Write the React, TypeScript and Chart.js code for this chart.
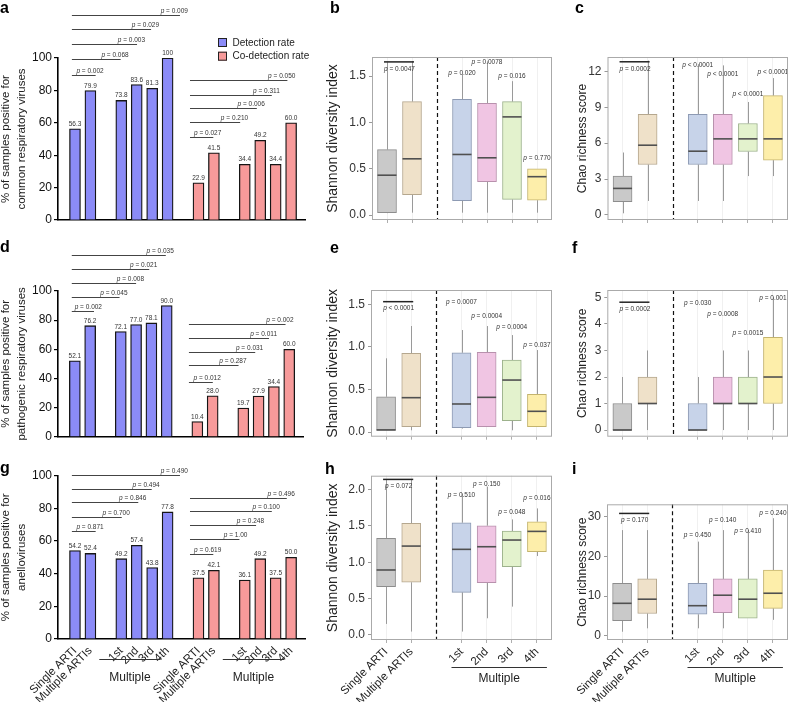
import { useEffect, useRef } from 'react';
import { Chart, registerables } from 'chart.js';

Chart.register(...registerables);

const FONT = '"Liberation Sans", Arial, Helvetica, sans-serif';
Chart.defaults.font.family = FONT;
Chart.defaults.color = '#222';

// ---------- categories ----------
const barSlotLabels = ['Single ARTI', 'Multiple ARTIs', '', '1st', '2nd', '3rd', '4th', '', 'Single ARTI', 'Multiple ARTIs', '', '1st', '2nd', '3rd', '4th'];
const detectionSlots = [0, 1, 3, 4, 5, 6];
const coDetectionSlots = [8, 9, 11, 12, 13, 14];
const barMultipleGroups = [[3, 6], [11, 14]];
const detBracketStart = -0.2;
const coBracketStart = 7.45;
const legendLabels = ['Detection rate', 'Co-detection rate'];

const boxLabels = ['Single ARTI', 'Multiple ARTIs', '', '1st', '2nd', '3rd', '4th'];
const boxSlots = [0, 1, 3, 4, 5, 6];
const boxMultipleGroup = [3, 6];
const pSlots = [0.5, 3, 4, 5, 6];

// ---------- a: common respiratory viruses ----------
const aDetection = [56.3, 79.9, 73.8, 83.6, 81.3, 100];
const aCoDetection = [22.9, 41.5, 34.4, 49.2, 34.4, 60.0];
const aDetP = ['p = 0.002', 'p = 0.068', 'p = 0.003', 'p = 0.029', 'p = 0.009'];
const aDetLevel = [89.5, 99.2, 108.5, 117.7, 126.7];
const aDetEnd = [1.34, 2.96, 4.02, 4.93, 6.8];
const aCoP = ['p = 0.027', 'p = 0.210', 'p = 0.006', 'p = 0.311', 'p = 0.050'];
const aCoLevel = [51.4, 60.7, 69, 77.2, 86.4];
const aCoEnd = [8.96, 10.7, 11.78, 12.75, 13.76];

// ---------- d: pathogenic respiratory viruses ----------
const dDetection = [52.1, 76.2, 72.1, 77.0, 78.1, 90.0];
const dCoDetection = [10.4, 28.0, 19.7, 27.9, 34.4, 60.0];
const dDetP = ['p = 0.002', 'p = 0.045', 'p = 0.008', 'p = 0.021', 'p = 0.035'];
const dDetLevel = [86.3, 96.1, 105.7, 115.3, 124.7];
const dDetEnd = [1.25, 2.92, 4.0, 4.86, 5.94];
const dCoP = ['p = 0.012', 'p = 0.287', 'p = 0.031', 'p = 0.011', 'p = 0.002'];
const dCoLevel = [37.7, 49.2, 57.9, 67.5, 77.1];
const dCoEnd = [9.01, 10.69, 11.78, 12.68, 13.76];

// ---------- g: anelloviruses ----------
const gDetection = [54.2, 52.4, 49.2, 57.4, 43.8, 77.8];
const gCoDetection = [37.5, 42.1, 36.1, 49.2, 37.5, 50.0];
const gDetP = ['p = 0.871', 'p = 0.700', 'p = 0.846', 'p = 0.494', 'p = 0.490'];
const gDetLevel = [66.1, 74.9, 83.7, 92.1, 100.6];
const gDetEnd = [1.34, 3.03, 4.1, 4.97, 6.8];
const gCoP = ['p = 0.619', 'p = 1.00', 'p = 0.248', 'p = 0.100', 'p = 0.496'];
const gCoLevel = [51.9, 61.1, 69.6, 78.2, 86.5];
const gCoEnd = [8.96, 10.65, 11.73, 12.75, 13.72];

// ---------- box plots: [lower whisker, q1, median, q3, upper whisker] ----------
const bLow = [0.02, 0.025, 0.025, 0.025, 0.025, 0.025];
const bQ1 = [0.025, 0.221, 0.154, 0.36, 0.168, 0.16];
const bMed = [0.43, 0.607, 0.654, 0.618, 1.06, 0.414];
const bQ3 = [0.707, 1.225, 1.25, 1.207, 1.225, 0.5];
const bHigh = [1.65, 1.66, 1.52, 1.66, 1.446, 0.5];
const bP = ['p = 0.0047', 'p = 0.020', 'p = 0.0078', 'p = 0.016', 'p = 0.770'];
const bPY = [1.58, 1.536, 1.646, 1.5, 0.618];
const bBracket = 1.654;

const cLow = [0.14, 1.17, 1.17, 1.17, 3.25, 3.25];
const cQ1 = [1.11, 4.22, 4.22, 4.22, 5.3, 4.58];
const cMed = [2.22, 5.83, 5.33, 6.36, 6.36, 6.36];
const cQ3 = [3.25, 8.42, 8.42, 8.42, 7.64, 9.97];
const cHigh = [5.22, 12.9, 12.6, 12.5, 9.44, 11.44];
const cP = ['p = 0.0002', 'p < 0.0001', 'p < 0.0001', 'p < 0.0001', 'p < 0.0001'];
const cPY = [12.14, 12.5, 11.8, 10.06, 11.92];
const cBracket = 12.8;

const eLow = [0.02, 0.02, 0.04, 0.062, 0.02, 0.06];
const eQ1 = [0.02, 0.062, 0.05, 0.062, 0.133, 0.062];
const eMed = [0.025, 0.403, 0.329, 0.407, 0.61, 0.243];
const eQ3 = [0.414, 0.924, 0.93, 0.935, 0.845, 0.442];
const eHigh = [0.865, 1.244, 1.197, 1.244, 1.138, 0.962];
const eP = ['p < 0.0001', 'p = 0.0007', 'p = 0.0004', 'p = 0.0004', 'p = 0.037'];
const ePY = [1.459, 1.52, 1.365, 1.229, 1.02];
const eBracket = 1.53;

const fLow = [0, 0, 0, 0, 0, 0];
const fQ1 = [0, 1, 0, 1, 1, 1];
const fMed = [0, 1, 0, 1, 1, 2];
const fQ3 = [1, 2, 1, 2, 2, 3.5];
const fHigh = [2, 3, 2, 3, 3, 5];
const fP = ['p = 0.0002', 'p = 0.030', 'p = 0.0008', 'p = 0.0015', 'p = 0.001'];
const fPY = [4.55, 4.78, 4.37, 3.67, 4.97];
const fBracket = 4.82;

const hLow = [0.151, 0.046, 0.046, 0.229, 0.389, 1.085];
const hQ1 = [0.664, 0.724, 0.586, 0.719, 0.939, 1.145];
const hMed = [0.893, 1.222, 1.177, 1.213, 1.305, 1.424];
const hQ3 = [1.328, 1.534, 1.543, 1.502, 1.429, 1.557];
const hHigh = [2.13, 2.13, 1.946, 2.04, 1.589, 1.74];
const hP = ['p = 0.072', 'p = 0.510', 'p = 0.150', 'p = 0.048', 'p = 0.016'];
const hPY = [2.04, 1.92, 2.07, 1.685, 1.877];
const hBracket = 2.139;

const iLow = [1.0, 1.86, 1.86, 1.86, 4.4, 4.0];
const iQ1 = [3.8, 5.6, 5.4, 5.8, 4.4, 6.9];
const iMed = [8.16, 9.2, 7.56, 10.2, 9.2, 10.7];
const iQ3 = [13.2, 14.3, 13.2, 14.3, 14.3, 16.5];
const iHigh = [26.6, 26.6, 23.7, 26.6, 26.6, 29.6];
const iP = ['p = 0.170', 'p = 0.450', 'p = 0.140', 'p = 0.410', 'p = 0.240'];
const iPY = [29.0, 25.2, 29.0, 26.4, 30.8];
const iBracket = 30.8;

const BLUE = '#8b8bf7';
const RED = '#f79a9a';
const boxFill = ['#c9c9c9', '#efe1c9', '#c7d3e9', '#f0c5e3', '#e3f2cd', '#fdeeaa'];
const boxEdge = ['#8d8d8d', '#b5a78e', '#8d9ab3', '#b891ad', '#9db28c', '#c4b46e'];

function drawP(ctx: CanvasRenderingContext2D, text: string, x: number, y: number, align: 'center' | 'right') {
  const head = text.charAt(0);
  const tail = text.slice(1);
  const italic = `italic 6.5px ${FONT}`;
  const upright = `6.5px ${FONT}`;
  ctx.font = italic;
  const w1 = ctx.measureText(head).width;
  ctx.font = upright;
  const w2 = ctx.measureText(tail).width;
  const x0 = align === 'center' ? x - (w1 + w2) / 2 : x - w1 - w2;
  ctx.textAlign = 'left';
  ctx.font = italic;
  ctx.fillText(head, x0, y);
  ctx.font = upright;
  ctx.fillText(tail, x0 + w1, y);
}

function seg(ctx: CanvasRenderingContext2D, x0: number, y0: number, x1: number, y1: number) {
  ctx.beginPath();
  ctx.moveTo(x0, y0);
  ctx.lineTo(x1, y1);
  ctx.stroke();
}

type BarPanel = {
  title: string[];
  det: number[]; co: number[];
  detP: string[]; detLevel: number[]; detEnd: number[];
  coP: string[]; coLevel: number[]; coEnd: number[];
  showX: boolean; legend: boolean;
  padTop: number; padRight: number; xHeight: number;
};

function barConfig(p: BarPanel) {
  const notes = {
    id: 'barNotes',
    afterDatasetsDraw(chart: any) {
      const { ctx, chartArea: area } = chart;
      const xs = chart.scales.x;
      const ys = chart.scales.y;
      ctx.save();
      // value labels
      ctx.font = `6.5px ${FONT}`;
      ctx.fillStyle = '#333';
      ctx.textAlign = 'center';
      ctx.textBaseline = 'bottom';
      chart.data.datasets.forEach((ds: any) => {
        ds.data.forEach((d: { x: number; y: number }) => {
          ctx.font = `6.5px ${FONT}`;
          ctx.textAlign = 'center';
          ctx.fillText(d.y === 100 ? '100' : d.y.toFixed(1), xs.getPixelForValue(d.x), ys.getPixelForValue(d.y) - 1.5);
        });
      });
      // significance brackets
      const groups = [
        { p: p.detP, level: p.detLevel, end: p.detEnd, start: detBracketStart },
        { p: p.coP, level: p.coLevel, end: p.coEnd, start: coBracketStart },
      ];
      groups.forEach((g) => g.p.forEach((txt, i) => {
        const yy = Math.round(ys.getPixelForValue(g.level[i])) + 0.5;
        const x0 = xs.getPixelForValue(g.start);
        const x1 = xs.getPixelForValue(g.end[i]);
        ctx.strokeStyle = '#444';
        ctx.lineWidth = 1;
        seg(ctx, x0, yy, x1, yy);
        ctx.fillStyle = '#333';
        ctx.textBaseline = 'bottom';
        drawP(ctx, txt, x1 + 8, yy - 1.2, 'right');
      }));
      // legend
      if (p.legend) {
        const lx = area.right - 87;
        const ly = ys.getPixelForValue(100) - 20;
        chart.data.datasets.forEach((ds: any, i: number) => {
          const top = ly + i * 13.7;
          ctx.fillStyle = ds.backgroundColor;
          ctx.fillRect(lx, top, 9, 9);
          ctx.strokeStyle = '#222';
          ctx.lineWidth = 1;
          ctx.strokeRect(lx + 0.5, top + 0.5, 8, 8);
          ctx.fillStyle = '#222';
          ctx.font = `10px ${FONT}`;
          ctx.textAlign = 'left';
          ctx.textBaseline = 'middle';
          ctx.fillText(ds.label, lx + 14.5, top + 4.8);
        });
      }
      // "Multiple" grouping
      if (p.showX) {
        barMultipleGroups.forEach(([a, b]) => {
          const x0 = xs.getPixelForValue(a) - 22;
          const x1 = xs.getPixelForValue(b) - 7;
          const yy = area.bottom + 20.5;
          ctx.strokeStyle = '#333';
          ctx.lineWidth = 1.2;
          seg(ctx, x0, yy, x1, yy);
          ctx.fillStyle = '#222';
          ctx.font = `12px ${FONT}`;
          ctx.textAlign = 'center';
          ctx.textBaseline = 'middle';
          ctx.fillText('Multiple', (x0 + x1) / 2, area.bottom + 39);
        });
      }
      ctx.restore();
    },
  };
  return {
    type: 'bar',
    data: {
      datasets: [
        {
          label: legendLabels[0],
          data: detectionSlots.map((s, i) => ({ x: s, y: p.det[i] })),
          backgroundColor: BLUE,
          borderColor: '#151515',
          borderWidth: 1.3,
          barThickness: 11,
          grouped: false,
        },
        {
          label: legendLabels[1],
          data: coDetectionSlots.map((s, i) => ({ x: s, y: p.co[i] })),
          backgroundColor: RED,
          borderColor: '#151515',
          borderWidth: 1.3,
          barThickness: 11,
          grouped: false,
        },
      ],
    },
    options: {
      responsive: false,
      animation: false,
      layout: { padding: { top: p.padTop, right: p.padRight, left: 0, bottom: 0 } },
      plugins: { legend: { display: false }, tooltip: { enabled: false } },
      scales: {
        x: {
          type: 'linear',
          min: -1.1,
          max: 14.9,
          offset: false,
          afterBuildTicks: (ax: any) => { ax.ticks = [...detectionSlots, ...coDetectionSlots].map((v) => ({ value: v })); },
          afterFit: (ax: any) => { ax.height = p.xHeight; },
          grid: { display: false, drawTicks: false, offset: false },
          border: { display: true, color: '#000', width: 1.6 },
          ticks: {
            display: p.showX,
            autoSkip: false,
            minRotation: 45,
            maxRotation: 45,
            padding: 5,
            color: '#222',
            font: { size: 11.5 },
            callback: (v: number) => barSlotLabels[v] ?? '',
          },
        },
        y: {
          min: 0,
          max: 100,
          afterFit: (ax: any) => { ax.width = 58; },
          ticks: { stepSize: 20, color: '#111', font: { size: 12 }, padding: 2 },
          grid: { drawOnChartArea: false, tickLength: 4, color: '#000', tickColor: '#000', lineWidth: 1.2 },
          border: { color: '#000', width: 1.6 },
          title: {
            display: true,
            text: p.title,
            color: '#222',
            font: { size: 11.5, lineHeight: 1.4 },
            padding: { top: -2, bottom: 0 },
          },
        },
      },
    },
    plugins: [notes],
  };
}

type BoxPanel = {
  title: string; titleSize: number; titlePad: number;
  low: number[]; q1: number[]; med: number[]; q3: number[]; high: number[];
  p: string[]; pY: number[]; bracket: number;
  min: number; max: number; ticks: number[]; decimals: number;
  showX: boolean;
  padTop: number; padRight: number; yWidth: number; xHeight: number;
};

function boxConfig(p: BoxPanel) {
  const marks = {
    id: 'boxMarks',
    beforeDatasetsDraw(chart: any) {
      const { ctx, chartArea: area } = chart;
      const xs = chart.scales.x;
      const ys = chart.scales.y;
      ctx.save();
      const dx = Math.round(xs.getPixelForValue(2)) + 0.5;
      ctx.strokeStyle = '#111';
      ctx.lineWidth = 1.2;
      ctx.setLineDash([4, 3]);
      seg(ctx, dx, area.top, dx, area.bottom);
      ctx.setLineDash([]);
      boxSlots.forEach((s, i) => {
        const cx = Math.round(xs.getPixelForValue(s)) + 0.5;
        ctx.strokeStyle = '#9a9a9a';
        ctx.lineWidth = 1;
        seg(ctx, cx, ys.getPixelForValue(p.high[i]), cx, ys.getPixelForValue(p.q3[i]));
        seg(ctx, cx, ys.getPixelForValue(p.q1[i]), cx, ys.getPixelForValue(p.low[i]));
      });
      ctx.restore();
    },
    afterDatasetsDraw(chart: any) {
      const { ctx, chartArea: area } = chart;
      const xs = chart.scales.x;
      const ys = chart.scales.y;
      ctx.save();
      // medians
      boxSlots.forEach((s, i) => {
        const cx = xs.getPixelForValue(s);
        const my = ys.getPixelForValue(p.med[i]);
        ctx.strokeStyle = '#505050';
        ctx.lineWidth = 1.6;
        seg(ctx, cx - 9.5, my, cx + 9.5, my);
      });
      // bracket between the first two groups
      const by = ys.getPixelForValue(p.bracket);
      ctx.strokeStyle = '#222';
      ctx.lineWidth = 1.5;
      seg(ctx, xs.getPixelForValue(0) - 3, by, xs.getPixelForValue(1) + 2, by);
      // p values
      ctx.fillStyle = '#333';
      ctx.textBaseline = 'middle';
      p.p.forEach((txt, i) => drawP(ctx, txt, xs.getPixelForValue(pSlots[i]), ys.getPixelForValue(p.pY[i]), 'center'));
      // frame
      ctx.strokeStyle = '#aaaaaa';
      ctx.lineWidth = 1;
      ctx.strokeRect(area.left + 0.5, area.top + 0.5, area.right - area.left - 1, area.bottom - area.top - 1);
      // "Multiple" grouping
      if (p.showX) {
        const x0 = xs.getPixelForValue(boxMultipleGroup[0]) - 10;
        const x1 = xs.getPixelForValue(boxMultipleGroup[1]) + 10;
        const yy = area.bottom + 27.5;
        ctx.strokeStyle = '#333';
        ctx.lineWidth = 1.2;
        seg(ctx, x0, yy, x1, yy);
        ctx.fillStyle = '#222';
        ctx.font = `12px ${FONT}`;
        ctx.textAlign = 'center';
        ctx.textBaseline = 'middle';
        ctx.fillText('Multiple', (x0 + x1) / 2, area.bottom + 39);
      }
      ctx.restore();
    },
  };
  return {
    type: 'bar',
    data: {
      datasets: [
        {
          data: boxSlots.map((s, i) => ({ x: s, y: [p.q1[i], p.q3[i]] })),
          backgroundColor: boxFill,
          borderColor: boxEdge,
          borderWidth: 1,
          borderSkipped: false,
          barThickness: 19,
          grouped: false,
        },
      ],
    },
    options: {
      responsive: false,
      animation: false,
      layout: { padding: { top: p.padTop, right: p.padRight, left: 0, bottom: 0 } },
      plugins: { legend: { display: false }, tooltip: { enabled: false } },
      scales: {
        x: {
          type: 'linear',
          min: -0.6,
          max: 6.6,
          offset: false,
          afterBuildTicks: (ax: any) => { ax.ticks = boxSlots.map((v) => ({ value: v })); },
          afterFit: (ax: any) => { ax.height = p.xHeight; },
          grid: { color: '#ececec', lineWidth: 0.8, tickLength: 3, tickColor: '#999', offset: false },
          border: { display: false },
          ticks: {
            display: p.showX,
            autoSkip: false,
            minRotation: 45,
            maxRotation: 45,
            padding: 2,
            color: '#222',
            font: { size: 11.5 },
            callback: (v: number) => boxLabels[v] ?? '',
          },
        },
        y: {
          min: p.min,
          max: p.max,
          afterBuildTicks: (ax: any) => { ax.ticks = p.ticks.map((v) => ({ value: v })); },
          afterFit: (ax: any) => { ax.width = p.yWidth; },
          grid: { drawOnChartArea: false, tickLength: 3, tickColor: '#999' },
          border: { display: false },
          ticks: {
            padding: 3,
            color: '#333',
            font: { size: 12 },
            callback: (v: number) => (p.decimals ? Number(v).toFixed(p.decimals) : String(v)),
          },
          title: {
            display: true,
            text: p.title,
            color: '#222',
            font: { size: p.titleSize, lineHeight: 1.2 },
            padding: { top: p.titlePad, bottom: 0 },
          },
        },
      },
    },
    plugins: [marks],
  };
}

function Panel({ left, top, width, height, config }: { left: number; top: number; width: number; height: number; config: () => any }) {
  const ref = useRef<HTMLCanvasElement>(null);
  useEffect(() => {
    const canvas = ref.current;
    if (!canvas) return;
    const chart = new Chart(canvas, config());
    return () => {
      chart.destroy();
    };
  }, []);
  return <canvas ref={ref} width={width} height={height} style={{ position: 'absolute', left, top, width, height }} />;
}

const letters: [string, number, number][] = [
  ['a', 0, 0], ['b', 330, 0], ['c', 575, 0],
  ['d', 0, 239], ['e', 330, 240], ['f', 572, 240],
  ['g', 0, 460], ['h', 325, 461], ['i', 572, 461],
];

export default function App() {
  const shannon = { title: 'Shannon diversity index', titleSize: 14, titlePad: 3, padRight: 18 };
  const chao = { title: 'Chao richness score', titleSize: 12, titlePad: 5, padRight: 1 };
  return (
    <div style={{ position: 'fixed', left: 0, top: 0, width: 789, height: 702, background: '#fff', overflow: 'hidden', fontFamily: FONT }}>
      <Panel left={0} top={0} width={330} height={232} config={() => barConfig({
        title: ['% of samples positive for', 'common respiratory viruses'],
        det: aDetection, co: aCoDetection,
        detP: aDetP, detLevel: aDetLevel, detEnd: aDetEnd,
        coP: aCoP, coLevel: aCoLevel, coEnd: aCoEnd,
        showX: false, legend: true, padTop: 58, padRight: 25, xHeight: 12,
      })} />
      <Panel left={0} top={232} width={330} height={228} config={() => barConfig({
        title: ['% of samples positive for', 'pathogenic respiratory viruses'],
        det: dDetection, co: dCoDetection,
        detP: dDetP, detLevel: dDetLevel, detEnd: dDetEnd,
        coP: dCoP, coLevel: dCoLevel, coEnd: dCoEnd,
        showX: false, legend: false, padTop: 59, padRight: 27, xHeight: 23.3,
      })} />
      <Panel left={0} top={460} width={330} height={242} config={() => barConfig({
        title: ['% of samples positive for', 'anelloviruses'],
        det: gDetection, co: gCoDetection,
        detP: gDetP, detLevel: gDetLevel, detEnd: gDetEnd,
        coP: gCoP, coLevel: gCoLevel, coEnd: gCoEnd,
        showX: true, legend: false, padTop: 15.7, padRight: 25, xHeight: 63,
      })} />
      <Panel left={322} top={0} width={248} height={232} config={() => boxConfig({
        ...shannon, low: bLow, q1: bQ1, med: bMed, q3: bQ3, high: bHigh,
        p: bP, pY: bPY, bracket: bBracket,
        min: -0.054, max: 1.707, ticks: [0, 0.5, 1, 1.5], decimals: 1,
        showX: false, padTop: 57, yWidth: 50, xHeight: 12,
      })} />
      <Panel left={570} top={0} width={219} height={232} config={() => boxConfig({
        ...chao, low: cLow, q1: cQ1, med: cMed, q3: cQ3, high: cHigh,
        p: cP, pY: cPY, bracket: cBracket,
        min: -0.42, max: 13.2, ticks: [0, 3, 6, 9, 12], decimals: 0,
        showX: false, padTop: 57, yWidth: 37.5, xHeight: 12,
      })} />
      <Panel left={322} top={232} width={248} height={228} config={() => boxConfig({
        ...shannon, low: eLow, q1: eQ1, med: eMed, q3: eQ3, high: eHigh,
        p: eP, pY: ePY, bracket: eBracket,
        min: -0.055, max: 1.667, ticks: [0, 0.5, 1, 1.5], decimals: 1,
        showX: false, padTop: 58, yWidth: 49, xHeight: 23.3,
      })} />
      <Panel left={570} top={232} width={219} height={228} config={() => boxConfig({
        ...chao, low: fLow, q1: fQ1, med: fMed, q3: fQ3, high: fHigh,
        p: fP, pY: fPY, bracket: fBracket,
        min: -0.25, max: 5.28, ticks: [0, 1, 2, 3, 4, 5], decimals: 0,
        showX: false, padTop: 58, yWidth: 37.3, xHeight: 23.3,
      })} />
      <Panel left={322} top={460} width={248} height={242} config={() => boxConfig({
        ...shannon, low: hLow, q1: hQ1, med: hMed, q3: hQ3, high: hHigh,
        p: hP, pY: hPY, bracket: hBracket,
        min: -0.07, max: 2.19, ticks: [0, 0.5, 1, 1.5, 2], decimals: 1,
        showX: true, padTop: 15.7, yWidth: 49, xHeight: 62,
      })} />
      <Panel left={570} top={460} width={219} height={242} config={() => boxConfig({
        ...chao, low: iLow, q1: iQ1, med: iMed, q3: iQ3, high: iHigh,
        p: iP, pY: iPY, bracket: iBracket,
        min: -1.08, max: 33.1, ticks: [0, 10, 20, 30], decimals: 0,
        showX: true, padTop: 44.3, yWidth: 37, xHeight: 62,
      })} />
      {letters.map(([t, x, y]) => (
        <div key={t} style={{ position: 'absolute', left: x, top: y, fontWeight: 'bold', fontSize: 16, lineHeight: '16px', color: '#000' }}>{t}</div>
      ))}
    </div>
  );
}
